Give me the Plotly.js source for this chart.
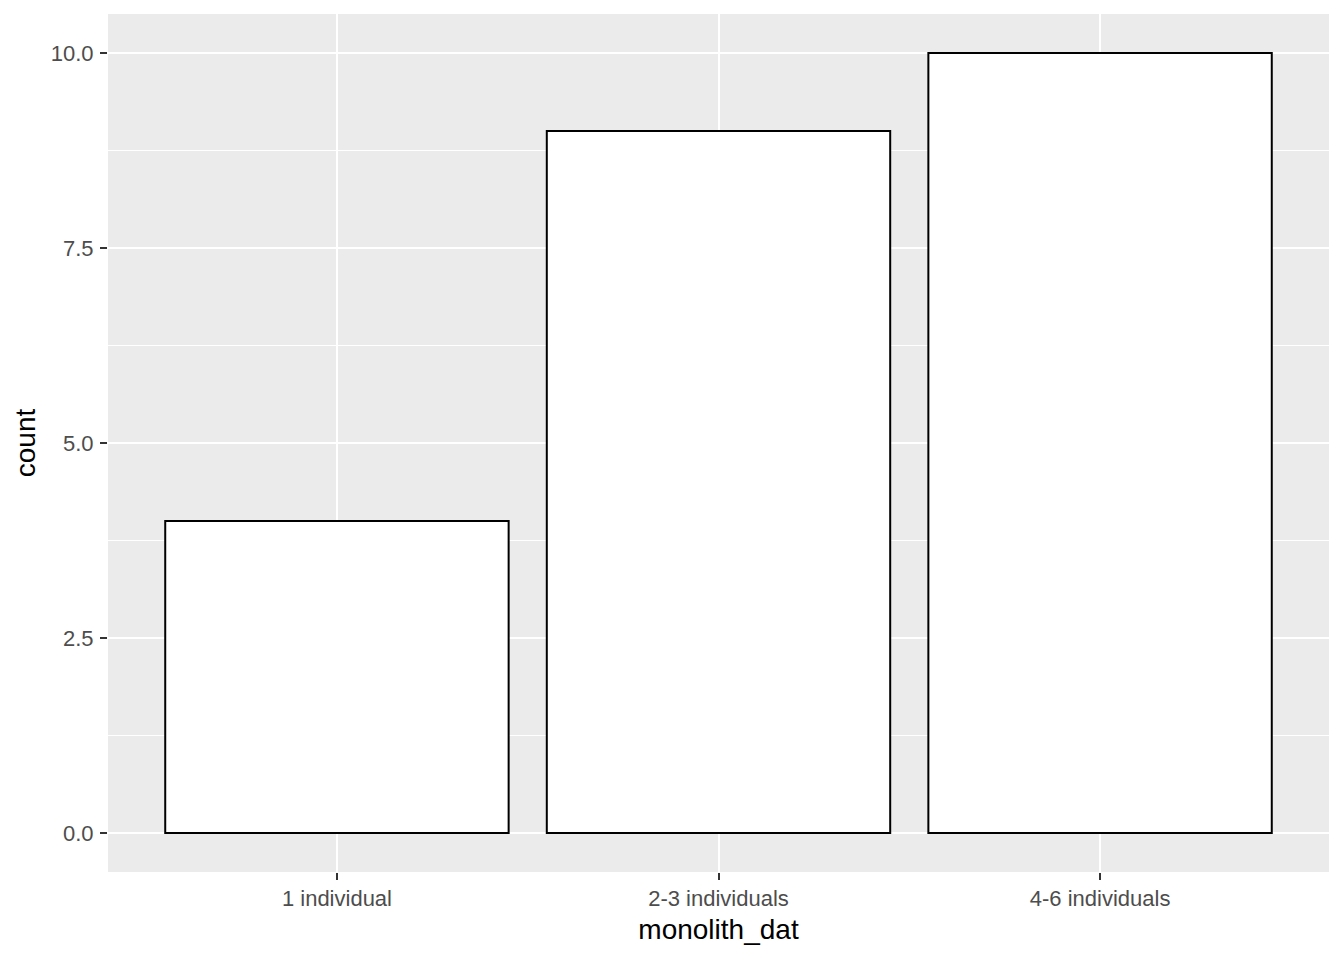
<!DOCTYPE html>
<html>
<head>
<meta charset="utf-8">
<script src="https://cdn.plot.ly/plotly-3.0.1.min.js"></script>
<style>html,body{margin:0;padding:0;background:#fff;}#chart{width:1344px;height:960px;}</style>
</head>
<body>
<div id="chart"></div>
<script>
const categories = ["1 individual", "2-3 individuals", "4-6 individuals"];
const counts = [4, 9, 10];
const yTickVals = [0, 2.5, 5, 7.5, 10];
const yTickText = ["0.0", "2.5", "5.0", "7.5", "10.0"];

const trace = {
  type: "bar",
  x: [0, 1, 2],
  y: counts,
  width: 0.9,
  marker: { color: "#FFFFFF", line: { color: "#000000", width: 2 } },
  hoverinfo: "x+y"
};

const layout = {
  width: 1344, height: 960,
  margin: { l: 108, r: 15, t: 14, b: 88 },
  paper_bgcolor: "#FFFFFF",
  plot_bgcolor: "#EBEBEB",
  showlegend: false,
  font: { family: "Liberation Sans, Arial, sans-serif", color: "#4D4D4D", size: 22 },
  xaxis: {
    range: [-0.6, 2.6],
    tickmode: "array",
    tickvals: [0, 1, 2],
    ticktext: categories,
    showgrid: true, gridcolor: "#FFFFFF", gridwidth: 2,
    zeroline: false, showline: false,
    ticks: "outside", ticklen: 7, tickwidth: 2, tickcolor: "#333333",
    tickfont: { size: 22, color: "#4D4D4D" },
    title: { text: "monolith_dat", font: { size: 28, color: "#000000" }, standoff: 8 }
  },
  yaxis: {
    range: [-0.5, 10.5],
    tickmode: "array",
    tickvals: yTickVals,
    ticktext: yTickText,
    showgrid: true, gridcolor: "#FFFFFF", gridwidth: 2,
    minor: { tickmode: "array", tickvals: [1.25, 3.75, 6.25, 8.75], showgrid: true, gridcolor: "#FFFFFF", gridwidth: 1, ticks: "" },
    zeroline: false, showline: false,
    ticks: "outside", ticklen: 7, tickwidth: 2, tickcolor: "#333333",
    ticklabelstandoff: 2,
    tickfont: { size: 22, color: "#4D4D4D" },
    title: { text: "count", font: { size: 28, color: "#000000" }, standoff: 6 }
  }
};

Plotly.newPlot("chart", [trace], layout, { displayModeBar: false, staticPlot: true });
</script>
</body>
</html>
